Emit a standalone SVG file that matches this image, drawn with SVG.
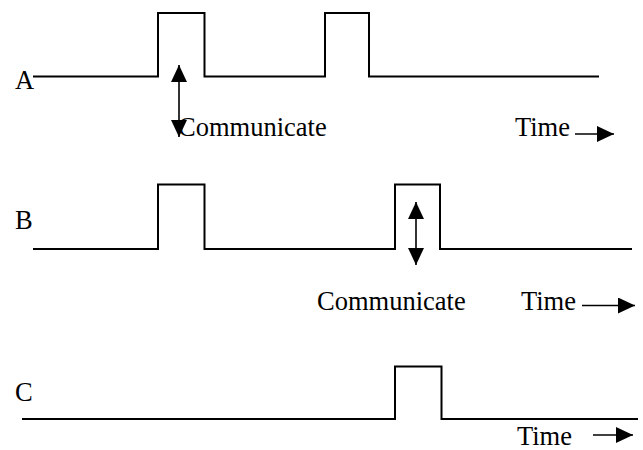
<svg xmlns="http://www.w3.org/2000/svg" width="643" height="450" viewBox="0 0 643 450">
<style>
.wave{fill:none;stroke:#000;stroke-width:2;stroke-linejoin:miter}
.lbl{font-family:"Liberation Serif","Times New Roman",serif;font-size:26.5px;fill:#000}
.arr{fill:none;stroke:#000;stroke-width:1.6}
</style>
<defs>
<marker id="head" markerUnits="userSpaceOnUse" markerWidth="18" markerHeight="17" refX="17" refY="8" orient="auto-start-reverse">
<path d="M0,0 L17,8 L0,16 z" fill="#000"/>
</marker>
</defs>
<rect width="643" height="450" fill="#fff"/>
<g id="signalA">
<text class="lbl" x="15" y="89">A</text>
<path class="wave" d="M33,76.5 H158 V13 H204.5 V76.5 H325 V13 H369 V76.5 H599"/>
</g>
<g id="signalB">
<text class="lbl" x="15" y="229">B</text>
<path class="wave" d="M33,249 H158 V184.5 H204.5 V249 H395 V184.5 H440 V249 H632"/>
</g>
<g id="signalC">
<text class="lbl" x="15" y="401">C</text>
<path class="wave" d="M22,419 H395 V366.5 H441.5 V419 H638"/>
</g>
<g id="labels">
<text class="lbl" x="178" y="136">Communicate</text>
<text class="lbl" x="515" y="136">Time</text>
<text class="lbl" x="317" y="310">Communicate</text>
<text class="lbl" x="521" y="310">Time</text>
<text class="lbl" x="517" y="445">Time</text>
</g>
<g id="connectors">
<line class="arr" x1="179" y1="65" x2="179" y2="137" marker-start="url(#head)" marker-end="url(#head)"/>
<line class="arr" x1="416" y1="202" x2="416" y2="265" marker-start="url(#head)" marker-end="url(#head)"/>
<line class="arr" x1="575" y1="134" x2="614" y2="134" marker-end="url(#head)"/>
<line class="arr" x1="582" y1="305.5" x2="635" y2="305.5" marker-end="url(#head)"/>
<line class="arr" x1="593" y1="435" x2="633" y2="435" marker-end="url(#head)"/>
</g>
</svg>
